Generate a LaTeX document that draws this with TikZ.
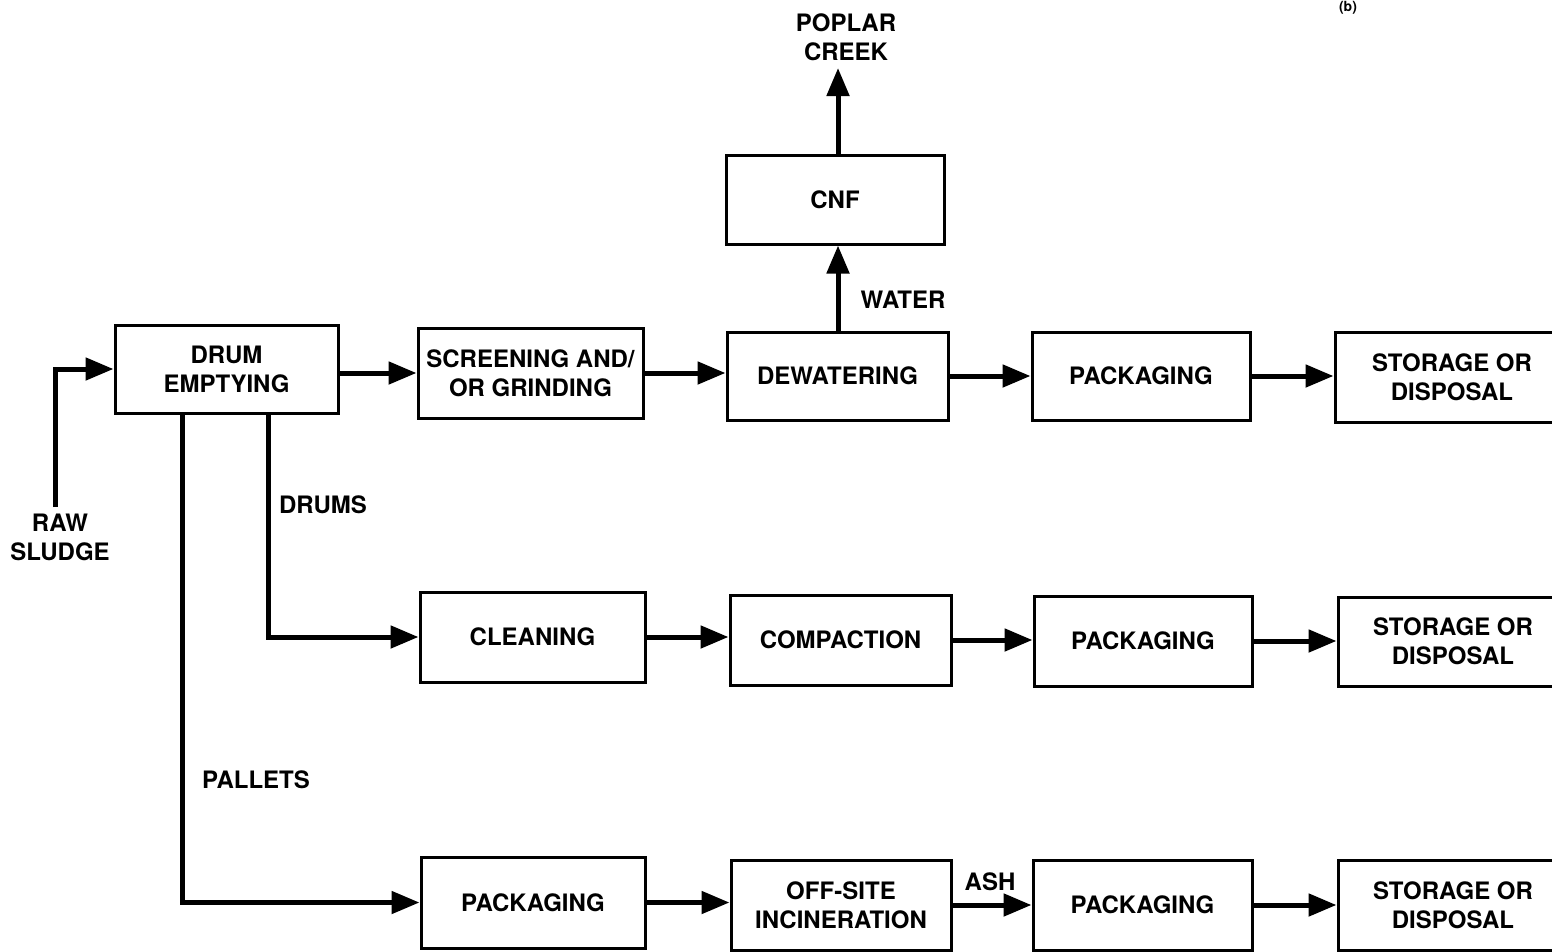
\documentclass[tikz,border=0pt]{standalone}
\usepackage{fontspec}
\setmainfont{TeX Gyre Heros}
\usetikzlibrary{arrows.meta}
\begin{document}
\begin{tikzpicture}[x=1pt,y=-1pt,
  box/.style={draw, line width=3pt, align=center, inner sep=0pt,
    font=\bfseries\fontsize{24}{29}\selectfont},
  lbl/.style={align=center, inner sep=0pt, font=\bfseries\fontsize{24}{29}\selectfont},
  arr/.style={line width=5pt, -{Triangle[length=28pt,width=22pt]}}]
\useasboundingbox (0,0) rectangle (1552,951);
\clip (0,0) rectangle (1552,951);
% boxes
\node[box, minimum width=223pt, minimum height=88pt] (drum) at (226.5,369) {DRUM\\EMPTYING};
\node[box, minimum width=225pt, minimum height=90pt] (screen) at (530.5,373) {SCREENING AND/\\OR GRINDING};
\node[box, minimum width=221pt, minimum height=88pt] (dew) at (837.5,376) {DEWATERING};
\node[box, minimum width=218pt, minimum height=89pt] (cnf) at (835,199.5) {CNF};
\node[box, minimum width=218pt, minimum height=88pt] (pack1) at (1141,376) {PACKAGING};
\node[box, minimum width=234pt, minimum height=90pt] (stor1) at (1452,377) {STORAGE OR\\DISPOSAL};
\node[box, minimum width=225pt, minimum height=90pt] (clean) at (532.5,637) {CLEANING};
\node[box, minimum width=221pt, minimum height=90pt] (comp) at (840.5,640) {COMPACTION};
\node[box, minimum width=218pt, minimum height=90pt] (pack2) at (1143,641) {PACKAGING};
\node[box, minimum width=230pt, minimum height=89pt] (stor2) at (1453,641.5) {STORAGE OR\\DISPOSAL};
\node[box, minimum width=224pt, minimum height=91pt] (pack3) at (533,902.5) {PACKAGING};
\node[box, minimum width=220pt, minimum height=90pt] (inc) at (841,905) {OFF-SITE\\INCINERATION};
\node[box, minimum width=219pt, minimum height=90pt] (pack4) at (1142.5,905) {PACKAGING};
\node[box, minimum width=230pt, minimum height=90pt] (stor3) at (1453,905) {STORAGE OR\\DISPOSAL};
% labels
\node[lbl] (raw) at (60,537) {RAW\\SLUDGE};
\node[lbl] (poplar) at (846,37) {POPLAR\\CREEK};
\node[lbl] (drums) at (323,505) {DRUMS};
\node[lbl] (pallets) at (256,780) {PALLETS};
\node[lbl] (water) at (903,300) {WATER};
\node[lbl] (ash) at (990,882) {ASH};
\node[lbl, font=\bfseries\fontsize{14}{16}\selectfont, anchor=north] (b) at (1348,1) {(b)};
% connectors
\coordinate (rs) at (55,507);
\coordinate (pc) at (838,68);
\draw[arr] (rs) |- (drum.west);
\draw[arr] (screen.west -| drum.east) -- (screen.west);
\draw[arr] (screen.east) -- (screen.east -| dew.west);
\draw[arr] (dew.north -| pc) -- (cnf.south -| pc);
\draw[arr] (cnf.north -| pc) -- (pc);
\draw[arr] (dew.east) -- (pack1.west);
\draw[arr] (pack1.east) -- (pack1.east -| stor1.west);
\coordinate (d1) at (268,413);
\coordinate (d2) at (182,413);
\draw[arr] (d1) |- (clean.west);
\draw[arr] (d2) |- (pack3.west);
\draw[arr] (clean.east) -- (clean.east -| comp.west);
\draw[arr] (comp.east) -- (comp.east -| pack2.west);
\draw[arr] (pack2.east) -- (pack2.east -| stor2.west);
\draw[arr] (pack3.east) -- (pack3.east -| inc.west);
\draw[arr] (inc.east) -- (pack4.west);
\draw[arr] (pack4.east) -- (pack4.east -| stor3.west);
\end{tikzpicture}
\end{document}
